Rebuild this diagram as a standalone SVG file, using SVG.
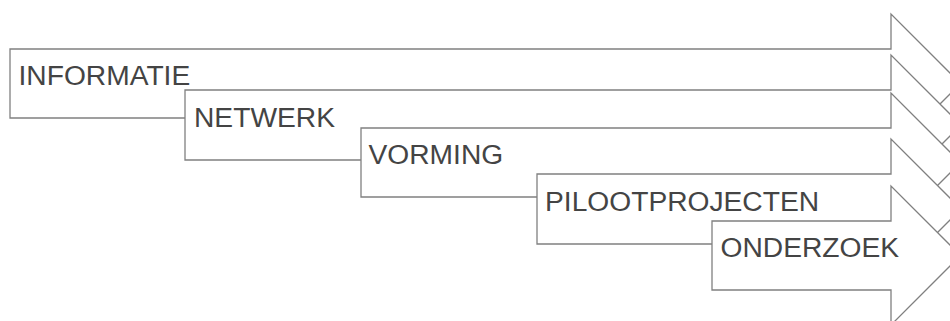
<svg xmlns="http://www.w3.org/2000/svg" width="950" height="321" viewBox="0 0 950 321">
  <style>
    .arrow { fill: #ffffff; stroke: #808080; stroke-width: 1.3; stroke-linejoin: miter; }
    .label { font-family: "Liberation Sans", Arial, sans-serif; font-size: 28.2px; fill: #444444; }
  </style>
  <rect x="0" y="0" width="950" height="321" fill="#ffffff"/>
  <g id="informatie">
    <polygon class="arrow" points="10,49 891,49 891,14 960.5,83.5 891,153 891,118 10,118"/>
    <text class="label" x="18.5" y="85">INFORMATIE</text>
  </g>
  <g id="netwerk">
    <polygon class="arrow" points="185,90 891,90 891,55 961,125 891,195 891,160 185,160"/>
    <text class="label" x="194" y="127">NETWERK</text>
  </g>
  <g id="vorming">
    <polygon class="arrow" points="361,128 891,128 891,93 960.5,162.5 891,232 891,197 361,197"/>
    <text class="label" x="368.5" y="164">VORMING</text>
  </g>
  <g id="pilootprojecten">
    <polygon class="arrow" points="537,174 891,174 891,139 961,209 891,279 891,244 537,244"/>
    <text class="label" x="545" y="211">PILOOTPROJECTEN</text>
  </g>
  <g id="onderzoek">
    <polygon class="arrow" points="712,221 891,221 891,186 960.5,255.5 891,325 891,290 712,290"/>
    <text class="label" x="720.5" y="257">ONDERZOEK</text>
  </g>
  <g id="connectors"></g>
</svg>
